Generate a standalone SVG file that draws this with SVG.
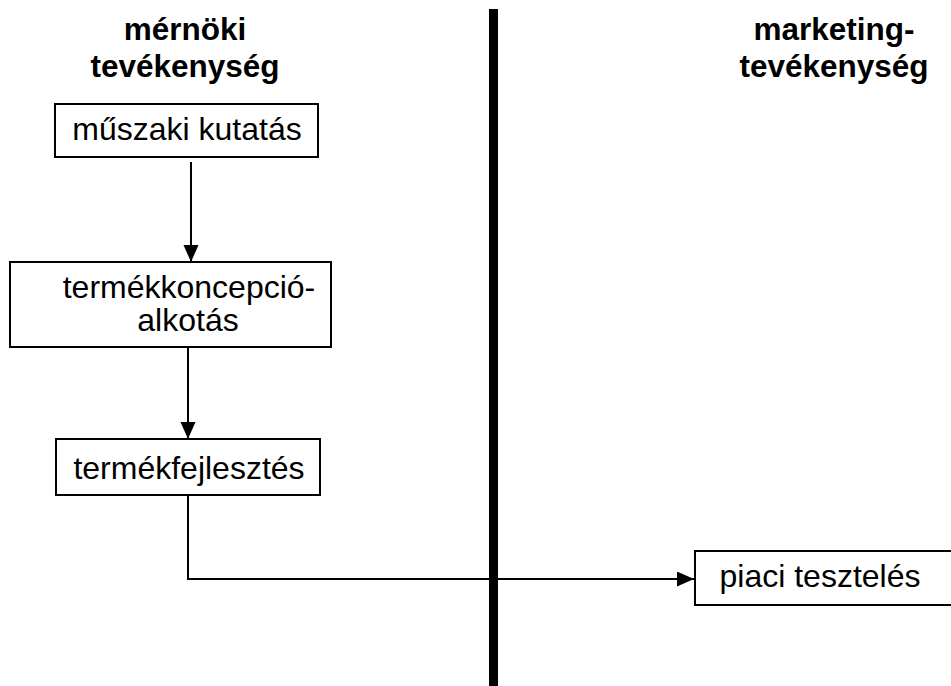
<svg xmlns="http://www.w3.org/2000/svg" width="951" height="686" viewBox="0 0 951 686">
  <style>
    .box { fill: #ffffff; stroke: #000000; stroke-width: 2; }
    .label { font-family: "Liberation Sans", Arial, sans-serif; font-size: 32px; fill: #000000; text-anchor: middle; }
    .title { font-family: "Liberation Sans", Arial, sans-serif; font-size: 31.5px; font-weight: bold; fill: #000000; text-anchor: middle; }
    .conn { fill: none; stroke: #000000; stroke-width: 2; }
  </style>
  <defs>
    <marker id="arrow" markerUnits="userSpaceOnUse" markerWidth="17" markerHeight="16" refX="17" refY="7.5" orient="auto">
      <path d="M0,0 L17,7.5 L0,15 Z" fill="#000000"/>
    </marker>
  </defs>
  <rect width="951" height="686" fill="#ffffff"/>

  <!-- column headings -->
  <g id="heading-engineering">
    <text class="title" x="185" y="40">mérnöki</text>
    <text class="title" x="185" y="77">tevékenység</text>
  </g>
  <g id="heading-marketing">
    <text class="title" x="834" y="40">marketing-</text>
    <text class="title" x="834" y="77">tevékenység</text>
  </g>

  <!-- divider between the two activity columns -->
  <rect id="divider" x="489" y="9" width="9" height="677" fill="#000000"/>

  <g id="connectors">
    <line class="conn" x1="191" y1="162" x2="191" y2="262" marker-end="url(#arrow)"/>
    <line class="conn" x1="188" y1="348" x2="188" y2="439" marker-end="url(#arrow)"/>
    <polyline class="conn" points="188,496 188,579 694,579" marker-end="url(#arrow)"/>
  </g>

  <g id="node-research">
    <rect class="box" x="55" y="104" width="263" height="53"/>
    <text class="label" x="187" y="140">műszaki kutatás</text>
  </g>
  <g id="node-concept">
    <rect class="box" x="10" y="262" width="321" height="85"/>
    <text class="label" x="189" y="298">termékkoncepció-</text>
    <text class="label" x="188" y="331">alkotás</text>
  </g>
  <g id="node-development">
    <rect class="box" x="56" y="439" width="264" height="56"/>
    <text class="label" x="189" y="479">termékfejlesztés</text>
  </g>
  <g id="node-market-test">
    <rect class="box" x="695" y="551" width="262" height="54"/>
    <text class="label" x="820" y="587">piaci tesztelés</text>
  </g>
</svg>
